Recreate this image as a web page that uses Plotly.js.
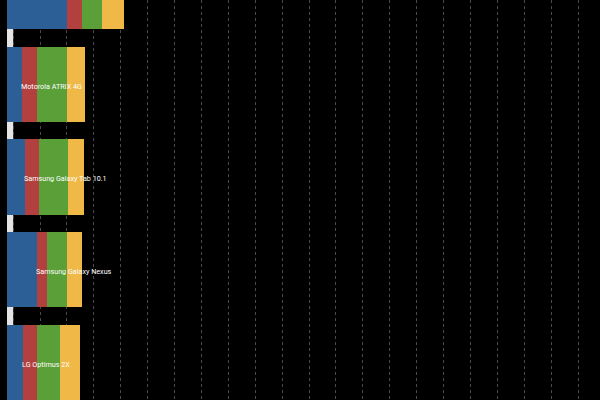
<!DOCTYPE html>
<html>
<head>
<meta charset="utf-8">
<script src="https://cdn.plot.ly/plotly-3.0.1.min.js"></script>
<style>
  html, body { margin: 0; padding: 0; background: #000; }
  #chart { width: 600px; height: 400px; }
</style>
</head>
<body>
<div id="chart"></div>
<script>
// devices, top to bottom (the first one is cut off by the crop)
const devices = ['ASUS Transformer Prime', 'Motorola ATRIX 4G', 'Samsung Galaxy Tab 10.1', 'Samsung Galaxy Nexus', 'LG Optimus 2X'];
const cpuScores = [2240, 560, 670, 1120, 600];
const memScores = [560, 560, 520, 375, 520];
const ioScores = [745, 1120, 1080, 745, 860];
const gfxScores = [785, 670, 600, 560, 745];

const segColors = ['#2c5f95', '#b1403f', '#5a9f38', '#efb847'];
const segNames = ['CPU', 'Memory', 'I/O', '2D/3D'];
const series = [cpuScores, memScores, ioScores, gfxScores];

const yIdx = devices.map((d, i) => i);

const traces = series.map((vals, k) => ({
    type: 'bar',
    orientation: 'h',
    name: segNames[k],
    x: vals,
    y: yIdx,
    marker: { color: segColors[k], line: { width: 0 } },
    hoverinfo: 'x+name',
}));

// device name sits right after the CPU segment
const labels = devices.map((d, i) => ({
    x: cpuScores[i],
    y: i,
    xref: 'x',
    yref: 'y',
    text: d,
    showarrow: false,
    xanchor: 'left',
    yanchor: 'middle',
    xshift: -3,
    yshift: -2,
    font: { family: 'Roboto, sans-serif', size: 7.2, color: '#ffffff' },
}));

const layout = {
    width: 600,
    height: 400,
    margin: { l: 0, r: 0, t: 0, b: 0 },
    paper_bgcolor: '#000',
    plot_bgcolor: '#000',
    barmode: 'stack',
    bargap: 0.19,
    showlegend: false,
    xaxis: {
        range: [-260, 22040],
        tick0: 227,
        dtick: 1000,
        showgrid: true,
        gridcolor: '#4a4a4a',
        griddash: 'dot',
        gridwidth: 1,
        zeroline: false,
        showticklabels: false,
        ticks: '',
    },
    yaxis: {
        range: [4.404, 0.092],
        showgrid: false,
        zeroline: false,
        showticklabels: false,
        ticks: '',
    },
    shapes: [{
        // white axis wall peeking out between the bars
        type: 'rect',
        xref: 'x',
        yref: 'paper',
        x0: 0,
        x1: 230,
        y0: 0,
        y1: 1,
        fillcolor: '#e4e4e4',
        line: { width: 0 },
        layer: 'below',
    }],
    annotations: labels,
};

Plotly.newPlot('chart', traces, layout, { displayModeBar: false, staticPlot: true });
</script>
</body>
</html>
